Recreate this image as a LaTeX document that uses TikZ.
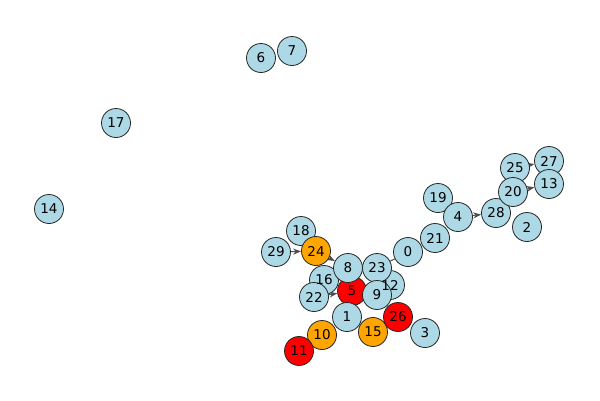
\documentclass[tikz,border=0pt]{standalone}
\usepackage{fontspec}
\setmainfont{DejaVu Sans}
\usetikzlibrary{arrows.meta,backgrounds}
\begin{document}
\begin{tikzpicture}[x=1bp,y=-1bp,
  nd/.style={circle,draw=black!85,line width=0.8pt,minimum size=29bp,inner sep=0pt},
  blue/.style={nd,fill={rgb,255:red,173;green,216;blue,230}},
  orng/.style={nd,fill={rgb,255:red,255;green,165;blue,0}},
  rd/.style={nd,fill=red},
  lbl/.style={inner sep=0pt,font=\fontsize{13.5bp}{14bp}\selectfont},
  ed/.style={draw=black!70,line width=1pt,-{Stealth[length=8bp,width=6bp]}}]
\useasboundingbox (0,0) rectangle (600,400);
\node[blue] (n6) at (261,58) {};
\node[blue] (n7) at (292,51) {};
\node[blue] (n17) at (116,123) {};
\node[blue] (n14) at (49,209) {};
\node[blue] (n19) at (438,198) {};
\node[blue] (n21) at (435,238) {};
\node[blue] (n4) at (458,217) {};
\node[blue] (n0) at (408,252) {};
\node[blue] (n28) at (496,213) {};
\node[blue] (n2) at (527,227) {};
\node[blue] (n25) at (515,168) {};
\node[blue] (n20) at (513,192) {};
\node[blue] (n27) at (549,161) {};
\node[blue] (n13) at (549,184) {};
\node[blue] (n18) at (301,231) {};
\node[blue] (n29) at (276,252) {};
\node[orng] (n24) at (316,251) {};
\node[blue] (n16) at (324,280) {};
\node[blue] (n22) at (314,297) {};
\node[rd] (n5) at (352,291) {};
\node[blue] (n8) at (348,268) {};
\node[blue] (n12) at (390,285) {};
\node[blue] (n23) at (377,268) {};
\node[blue] (n9) at (377,295) {};
\node[blue] (n1) at (347,317) {};
\node[blue] (n3) at (425,333) {};
\node[orng] (n15) at (373,332) {};
\node[rd] (n26) at (398,317) {};
\node[orng] (n10) at (322,335) {};
\node[rd] (n11) at (299,351) {};
\foreach \k in {0,1,2,3,4,5,6,7,8,9,10,11,12,13,14,15,16,17,18,19,20,21,22,23,24,25,26,27,28,29}
  \node[lbl] (t\k) at (n\k) {\k};
\begin{scope}[on background layer]
\draw[ed] (n29) -- (n24);
\draw[ed] (n24) -- (n8);
\draw[ed] (n22) -- (n5);
\draw[ed] (n4) -- (n28);
\draw[ed] (n25) -- (n27);
\draw[ed] (n20) -- (n13);
\draw[draw=black!70,line width=1pt] (n23) -- (n0);
\end{scope}
\end{tikzpicture}
\end{document}
